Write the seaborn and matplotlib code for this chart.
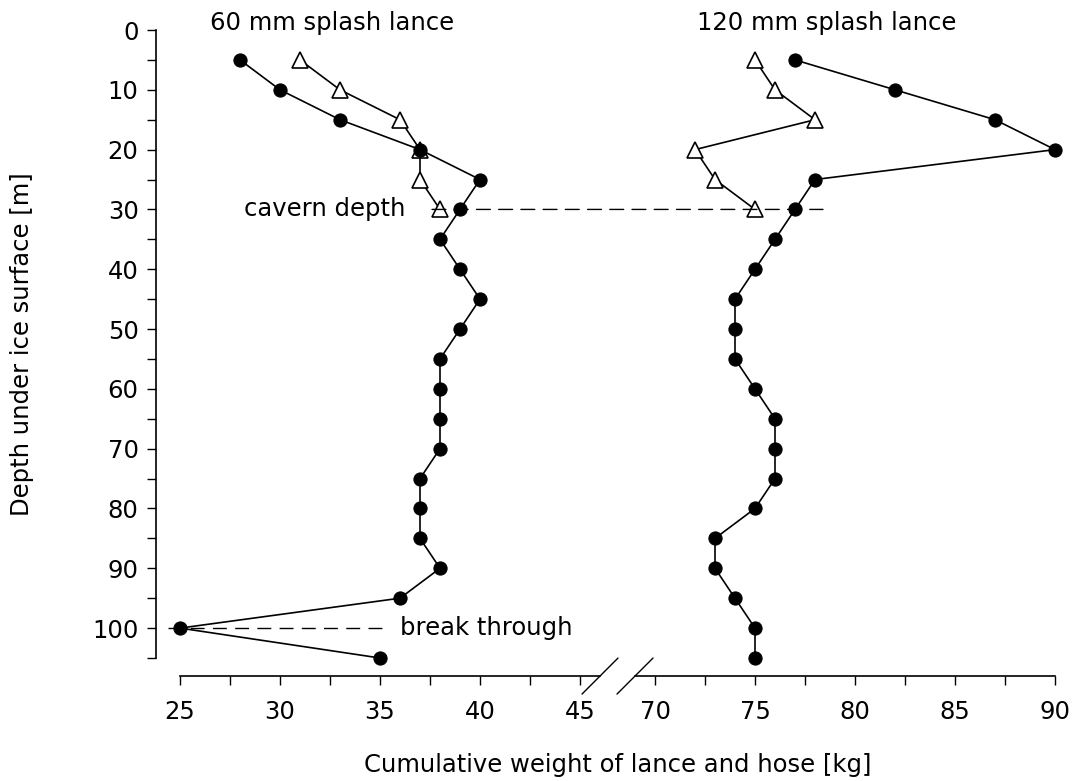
import numpy as np
import pandas as pd
import matplotlib
matplotlib.use("Agg")
import matplotlib.pyplot as plt
from matplotlib.patches import ConnectionPatch
from matplotlib.transforms import ScaledTranslation
from matplotlib.ticker import MultipleLocator
import seaborn as sns

# Depths (m) at which the cumulative weight was recorded
depth_full = [5, 10, 15, 20, 25, 30, 35, 40, 45, 50, 55, 60, 65, 70, 75, 80, 85, 90, 95, 100, 105]
depth_short = [5, 10, 15, 20, 25, 30]

# 60 mm splash lance (kg)
w60_circle = [28, 30, 33, 37, 40, 39, 38, 39, 40, 39, 38, 38, 38, 38, 37, 37, 37, 38, 36, 25, 35]
w60_triangle = [31, 33, 36, 37, 37, 38]

# 120 mm splash lance (kg)
w120_circle = [77, 82, 87, 90, 78, 77, 76, 75, 74, 74, 74, 75, 76, 76, 76, 75, 73, 73, 74, 75, 75]
w120_triangle = [75, 76, 78, 72, 73, 75]

left_ticks = [25, 30, 35, 40, 45]
right_ticks = [70, 75, 80, 85, 90]
depth_ticks = list(range(0, 101, 10))

sns.set_style("ticks")
FS = 17.5
plt.rcParams.update({
    "font.family": ["DejaVu Sans"],
    "font.size": FS,
    "text.color": "black",
    "axes.labelcolor": "black",
    "axes.edgecolor": "black",
    "xtick.color": "black",
    "ytick.color": "black",
})

W, H = 1074, 781
fig = plt.figure(figsize=(W / 100, H / 100), dpi=100)

ax_l = fig.add_axes([180 / W, 1 - 658 / H, 420 / W, 628 / H])
ax_r = fig.add_axes([635 / W, 1 - 658 / H, 420 / W, 628 / H])

line_kw = dict(color="black", lw=1.2, sort=False, estimator=None, orient="y",
               clip_on=False, legend=False)
tri_kw = dict(marker="^", markersize=11, markerfacecolor="white",
              markeredgecolor="black", markeredgewidth=1.2)
dot_kw = dict(marker="o", markersize=9.5, markerfacecolor="black",
              markeredgecolor="black")

df60t = pd.DataFrame({"w": w60_triangle, "d": depth_short})
df60c = pd.DataFrame({"w": w60_circle, "d": depth_full})
df120t = pd.DataFrame({"w": w120_triangle, "d": depth_short})
df120c = pd.DataFrame({"w": w120_circle, "d": depth_full})

sns.lineplot(data=df60t, x="w", y="d", ax=ax_l, **line_kw, **tri_kw)
sns.lineplot(data=df60c, x="w", y="d", ax=ax_l, **line_kw, **dot_kw)
sns.lineplot(data=df120t, x="w", y="d", ax=ax_r, **line_kw, **tri_kw)
sns.lineplot(data=df120c, x="w", y="d", ax=ax_r, **line_kw, **dot_kw)

for ax in (ax_l, ax_r):
    ax.set_ylim(105, 0)
    ax.set_xlabel("")
    ax.set_ylabel("")
    ax.spines["top"].set_visible(False)
    ax.spines["right"].set_visible(False)
    ax.spines["bottom"].set_position(("outward", 13))
    ax.spines["bottom"].set_linewidth(1.2)
    ax.xaxis.set_minor_locator(MultipleLocator(2.5))
    ax.tick_params(axis="x", which="both", length=6.5, width=1, direction="out",
                   pad=11, labelsize=FS, color="black", labelcolor="black")
    ax.patch.set_visible(False)

ax_l.set_xlim(25, 46)
ax_l.set_xticks(left_ticks)
ax_r.set_xlim(69, 90)
ax_r.set_xticks(right_ticks)

ax_l.set_yticks(depth_ticks)
ax_l.yaxis.set_minor_locator(MultipleLocator(5))
ax_l.spines["left"].set_position(("outward", 17.3))
ax_l.spines["left"].set_linewidth(1.2)
ax_l.tick_params(axis="y", which="both", length=6.5, width=1, direction="out",
                 pad=6, labelsize=FS, color="black", labelcolor="black")

ax_r.spines["left"].set_visible(False)
ax_r.tick_params(axis="y", which="both", left=False, labelleft=False)

# Break marks at the ends of the two x-axis segments
shift = ScaledTranslation(0, -13 / 72, fig.dpi_scale_trans)
dy = 18 / 628
for ax, xb in ((ax_l, 46), (ax_r, 69)):
    ax.plot([xb - 0.9, xb + 0.9], [-dy, dy], color="black", lw=1,
            transform=ax.get_xaxis_transform() + shift, clip_on=False)

# Cavern depth reference line across both panels
con = ConnectionPatch(xyA=(37.6, 30), coordsA=ax_l.transData,
                      xyB=(78.4, 30), coordsB=ax_r.transData,
                      linestyle=(0, (10, 6)), lw=1, color="black")
fig.add_artist(con)
ax_l.text(36.25, 30, "cavern depth", ha="right", va="center", fontsize=FS)

# Break-through reference line
ax_l.plot([24.4, 35.4], [100, 100], color="black", lw=1,
          linestyle=(0, (10, 6)), clip_on=False)
ax_l.text(36.0, 100, "break through", ha="left", va="center", fontsize=FS)

ax_l.text(32.6, 0.0, "60 mm splash lance", ha="center", va="baseline",
          fontsize=FS, clip_on=False)
ax_r.text(78.6, 0.0, "120 mm splash lance", ha="center", va="baseline",
          fontsize=FS, clip_on=False)

fig.text(22 / W, 1 - 344 / H, "Depth under ice surface [m]", rotation=90,
         ha="center", va="center", fontsize=FS)
fig.text(618 / W, 1 - 765 / H, "Cumulative weight of lance and hose [kg]",
         ha="center", va="center", fontsize=FS)

fig.savefig("out.png", dpi=100)
